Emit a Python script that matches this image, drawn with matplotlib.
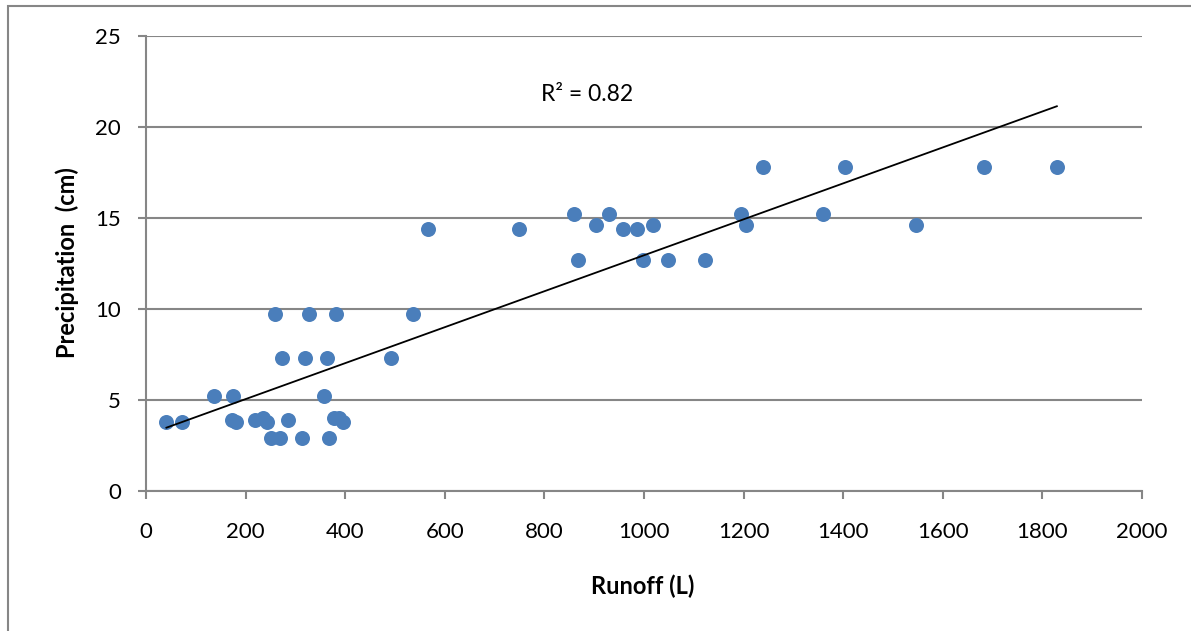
import matplotlib.pyplot as plt
import numpy as np
from matplotlib.patches import Rectangle

# runoff (L) vs precipitation (cm)
runoff = [41, 72, 137, 175, 357, 172, 181, 219, 235, 242, 285, 378, 388, 396,
          250, 270, 313, 367, 273, 319, 364, 491, 260, 327, 382, 537,
          566, 748, 859, 868, 904, 930, 958, 985, 997, 1018, 1049, 1122,
          1194, 1204, 1239, 1360, 1404, 1547, 1683, 1829]
precip = [3.8, 3.8, 5.2, 5.2, 5.2, 3.9, 3.8, 3.9, 4.0, 3.8, 3.9, 4.0, 4.0, 3.8,
          2.9, 2.9, 2.9, 2.9, 7.3, 7.3, 7.3, 7.3, 9.7, 9.7, 9.7, 9.7,
          14.4, 14.4, 15.2, 12.7, 14.6, 15.2, 14.4, 14.4, 12.7, 14.6, 12.7, 12.7,
          15.2, 14.6, 17.8, 15.2, 17.8, 14.6, 17.8, 17.8]

r2_label = 'R² = 0.82'
x_ticks = list(range(0, 2001, 200))
y_ticks = list(range(0, 26, 5))

plt.rcParams['font.family'] = ['Lato', 'DejaVu Sans']
GRAY = '#868686'
BLUE = '#4A7EBB'

fig = plt.figure(figsize=(11.91, 6.31), dpi=100)
ax = fig.add_axes([146 / 1191, 1 - 491 / 631, 996 / 1191, 455 / 631])

# chart border (only left/top visible in the original)
fig.patches.append(Rectangle((8 / 1191, -0.1), 1.2, 1 - 6 / 631 + 0.1,
                             transform=fig.transFigure, fill=False,
                             edgecolor=GRAY, linewidth=1.5))

x = np.array(runoff)
y = np.array(precip)
ax.plot(x, y, 'o', color=BLUE, markersize=10.8, markeredgewidth=0, zorder=3)

# linear trendline over the data range
k, b = np.polyfit(x, y, 1)
xs = np.array([x.min(), x.max()])
ax.plot(xs, k * xs + b, color='black', linewidth=1.3, zorder=4)

ax.text(885, 21.8, r2_label, fontsize=16.5, ha='center', va='center')

ax.set_xlim(0, 2000)
ax.set_ylim(0, 25)
ax.set_xticks(x_ticks)
ax.set_yticks(y_ticks)
ax.yaxis.grid(True, color=GRAY, linewidth=1.5)
ax.set_axisbelow(True)
for s in ['top', 'right']:
    ax.spines[s].set_visible(False)
for s in ['left', 'bottom']:
    ax.spines[s].set_color(GRAY)
    ax.spines[s].set_linewidth(1.5)
ax.tick_params(axis='both', direction='out', length=6, width=1.5, color=GRAY,
               labelsize=16)
ax.tick_params(axis='y', pad=12)
ax.tick_params(axis='x', pad=16)

ax.set_xlabel('Runoff (L)', fontsize=17, fontweight='bold', va='center')
ax.set_ylabel('Precipitation  (cm)', fontsize=17, fontweight='bold', va='center')
ax.xaxis.set_label_coords((643 - 146) / 996, (491 - 586) / 455)
ax.yaxis.set_label_coords((67 - 146) / 996, (491 - 263) / 455)

fig.savefig('out.png', dpi=100)
